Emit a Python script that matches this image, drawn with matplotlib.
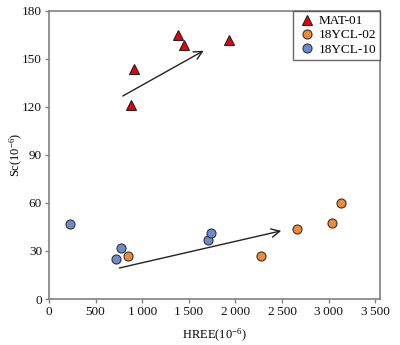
import matplotlib
matplotlib.use("Agg")
import matplotlib.pyplot as plt
from matplotlib.ticker import FuncFormatter, MultipleLocator

plt.rcParams['font.family'] = ['Liberation Serif', 'DejaVu Serif']
plt.rcParams['mathtext.fontset'] = 'custom'
plt.rcParams['mathtext.rm'] = 'Liberation Serif'
plt.rcParams['mathtext.it'] = 'Liberation Serif:italic'
plt.rcParams['mathtext.bf'] = 'Liberation Serif:bold'

# Data
mat01_x = [880, 910, 1380, 1450, 1935]
mat01_y = [121, 144, 165, 159, 162]
ycl02_x = [850, 2270, 2665, 3035, 3135]
ycl02_y = [27, 27, 43.5, 47.5, 60]
ycl10_x = [220, 775, 720, 1700, 1735]
ycl10_y = [47, 32, 25, 37, 41]
arrow_upper = [(765, 126), (1685, 156)]
arrow_lower = [(726, 19), (2520, 43)]

fig = plt.figure(figsize=(4.0, 3.45), dpi=100)
ax = fig.add_axes([0.1225, 0.1333, 0.8275, 0.835])

ax.plot(mat01_x, mat01_y, linestyle='none', marker='^', markersize=7.5,
        markerfacecolor='#e8000b', markeredgecolor='#222222', markeredgewidth=0.8,
        label='MAT-01', zorder=3)
ax.plot(ycl02_x, ycl02_y, linestyle='none', marker='o', markersize=6.5,
        markerfacecolor='#f08a33', markeredgecolor='#333333', markeredgewidth=0.8,
        label='18YCL-02', zorder=3)
ax.plot(ycl10_x, ycl10_y, linestyle='none', marker='o', markersize=6.5,
        markerfacecolor='#6a8bcf', markeredgecolor='#333333', markeredgewidth=0.8,
        label='18YCL-10', zorder=3)

for (x0, y0), (x1, y1) in [arrow_upper, arrow_lower]:
    ax.annotate('', xy=(x1, y1), xytext=(x0, y0),
                arrowprops=dict(arrowstyle='->,head_length=0.6,head_width=0.3',
                                color='#222222', lw=1.0))

ax.set_xlim(0, 3550)
ax.set_ylim(0, 180)
ax.xaxis.set_major_locator(MultipleLocator(500))
ax.yaxis.set_major_locator(MultipleLocator(30))

def fmt(v, pos):
    v = int(round(v))
    if v >= 1000:
        return f"{v // 1000}\u2009{v % 1000:03d}"
    return str(v)

ax.xaxis.set_major_formatter(FuncFormatter(fmt))

for side in ['top', 'right', 'left', 'bottom']:
    ax.spines[side].set_color('#808080')
    ax.spines[side].set_linewidth(1.2)

ax.tick_params(axis='both', direction='out', length=3, width=1, color='#808080',
               labelsize=9.5, labelcolor='#111111', pad=2)

ax.set_xlabel('HREE(10$^{-6}$)', fontsize=9)
ax.set_ylabel('Sc(10$^{-6}$)', fontsize=9)
ax.xaxis.set_label_coords(0.5, (299 - 335) / 288)
ax.xaxis.label.set_va('center')
ax.yaxis.set_label_coords((16 - 49) / 331, 0.5)
ax.yaxis.label.set_va('center')

leg = ax.legend(loc='upper right', fontsize=9.5, frameon=True, fancybox=False,
                borderaxespad=0, handletextpad=0.1, handlelength=1.5,
                borderpad=0.3, labelspacing=0.15)
leg.get_frame().set_edgecolor('#444444')
leg.get_frame().set_linewidth(1.0)

fig.savefig('out.png', dpi=100)
